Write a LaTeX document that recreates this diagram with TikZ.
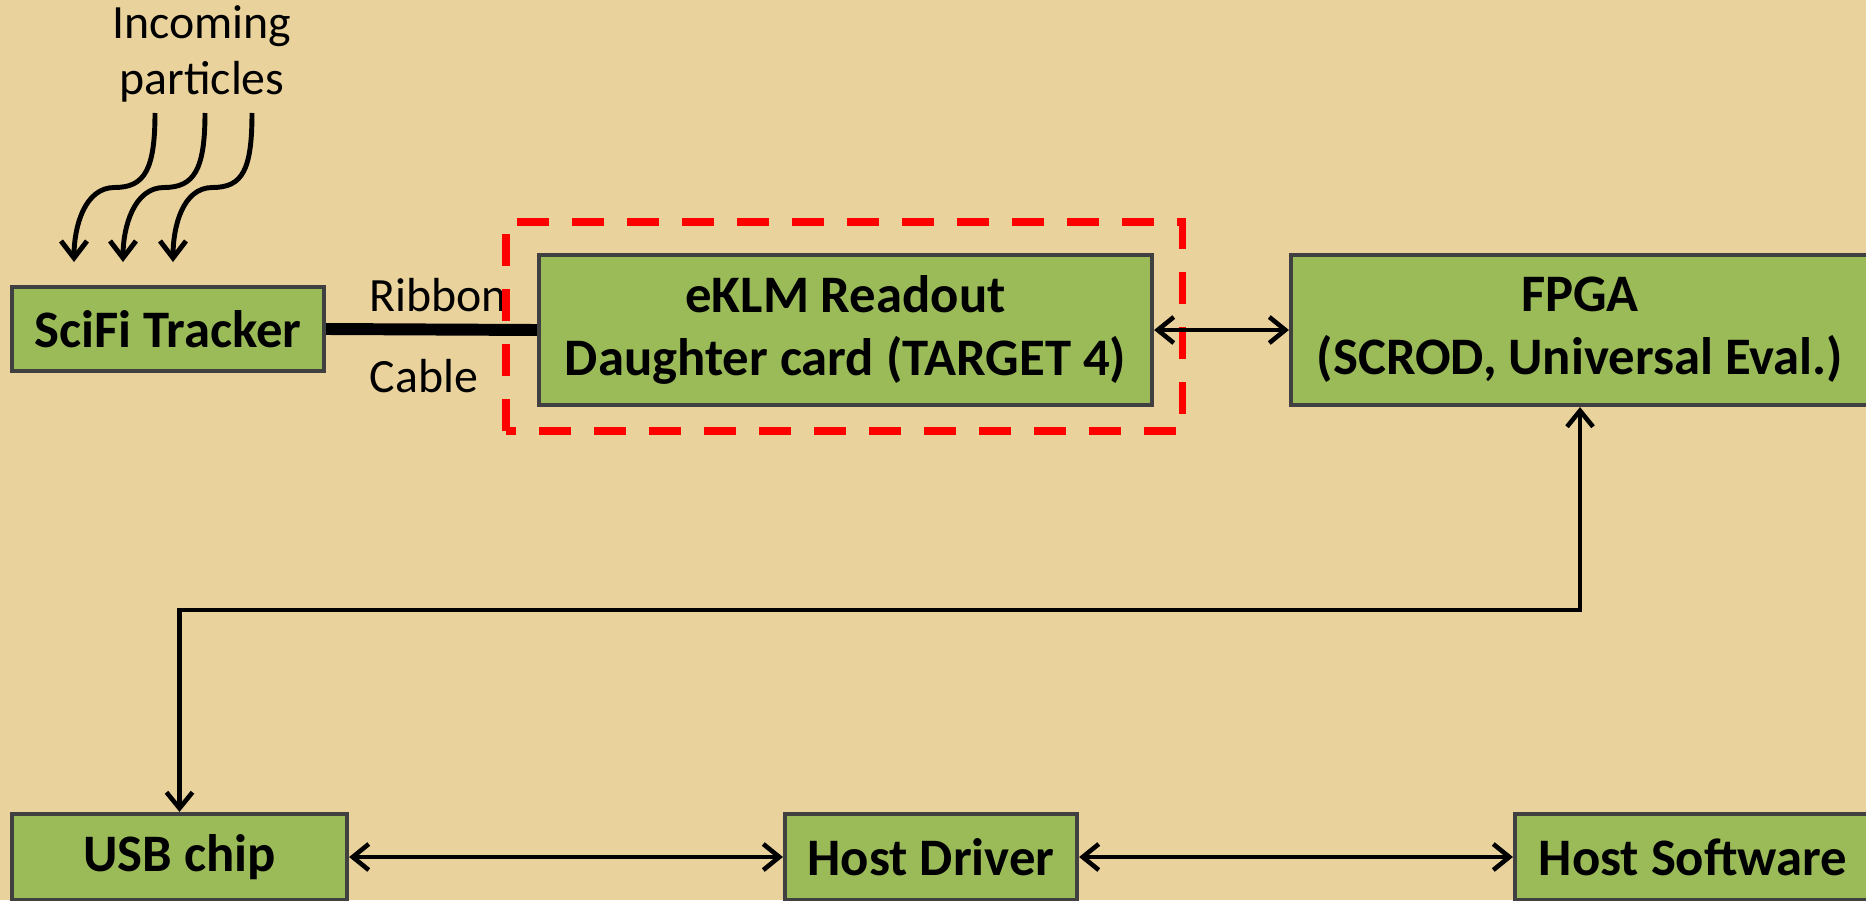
\documentclass[tikz,border=0pt]{standalone}
\usepackage{fontspec}
\setmainfont{Carlito}
\usetikzlibrary{arrows.meta, positioning, calc}
\definecolor{parchment}{HTML}{E9D29C}
\definecolor{board}    {HTML}{9BBB59}
\definecolor{boxline}  {HTML}{404040}
\definecolor{chipred}  {HTML}{FF0000}

\begin{document}
\begin{tikzpicture}[
    block/.style={draw=boxline, line width=1.2pt, fill=board, align=center, inner sep=0pt,
                  font=\fontsize{15}{18}\selectfont\bfseries},
    link/.style={{Straight Barb[length=1.6mm,width=2.6mm]}-{Straight Barb[length=1.6mm,width=2.6mm]}, line width=1.3pt},
    particle/.style={-{Straight Barb[length=1.7mm,width=2.6mm]}, line width=1.4pt},
    note/.style={font=\fontsize{13.6}{16}\selectfont, align=center, inner sep=0pt}]
  \useasboundingbox (0,0) rectangle (18.66,9);
  \fill[parchment] (0,0) rectangle (18.66,9);

  \node[block, minimum width=3.12cm, minimum height=0.84cm] (scifi) at (1.68,5.71) {SciFi Tracker};
  \node[block, minimum width=6.13cm, minimum height=1.50cm] (eklm) at (8.455,5.70) {eKLM Readout\\Daughter card (TARGET 4)};
  \node[block, minimum width=5.78cm, minimum height=1.50cm] (fpga) at (15.80,5.70) {FPGA\\(SCROD, Universal Eval.)};
  \node[block, minimum width=3.35cm, minimum height=0.86cm] (usb) at (1.795,0.43) {USB chip};
  \node[block, minimum width=2.92cm, minimum height=0.86cm] (driver) at (9.31,0.43) {Host Driver};
  \node[block, minimum width=3.56cm, minimum height=0.86cm] (software) at (16.93,0.43) {Host Software};

  \node[note] (incoming) at (2.02,8.46) {Incoming\\particles};
  \node[note, anchor=west] (ribbon) at (3.69,6.05) {Ribbon};
  \node[note, anchor=west] (cable) at (3.69,5.24) {Cable};

  \draw[chipred, line width=2pt, dash pattern=on 3.2mm off 2.3mm] (5.06,4.69) rectangle (11.82,6.78);

  \foreach \s/\e [count=\i] in {1.55/0.74, 2.05/1.23, 2.52/1.73}
    {\coordinate (p\i) at (\s,7.87);
     \coordinate (h\i) at (\e,6.38);
     \draw[particle] (p\i) .. controls +(0,-0.57) and +(0.3,0) .. ($(p\i)!0.5!(h\i)$)
                           .. controls +(-0.3,0) and +(0,0.35) .. (h\i);}

  \draw[line width=3.4pt] (scifi.east) -- (eklm.west);
  \draw[link] (eklm.east) -- (fpga.west);
  \coordinate (bend) at (0,2.90);
  \draw[link] (usb.north) -- (usb.north |- bend) -| (fpga.south);
  \draw[link] (usb.east) -- (driver.west);
  \draw[link] (driver.east) -- (software.west);
\end{tikzpicture}
\end{document}
